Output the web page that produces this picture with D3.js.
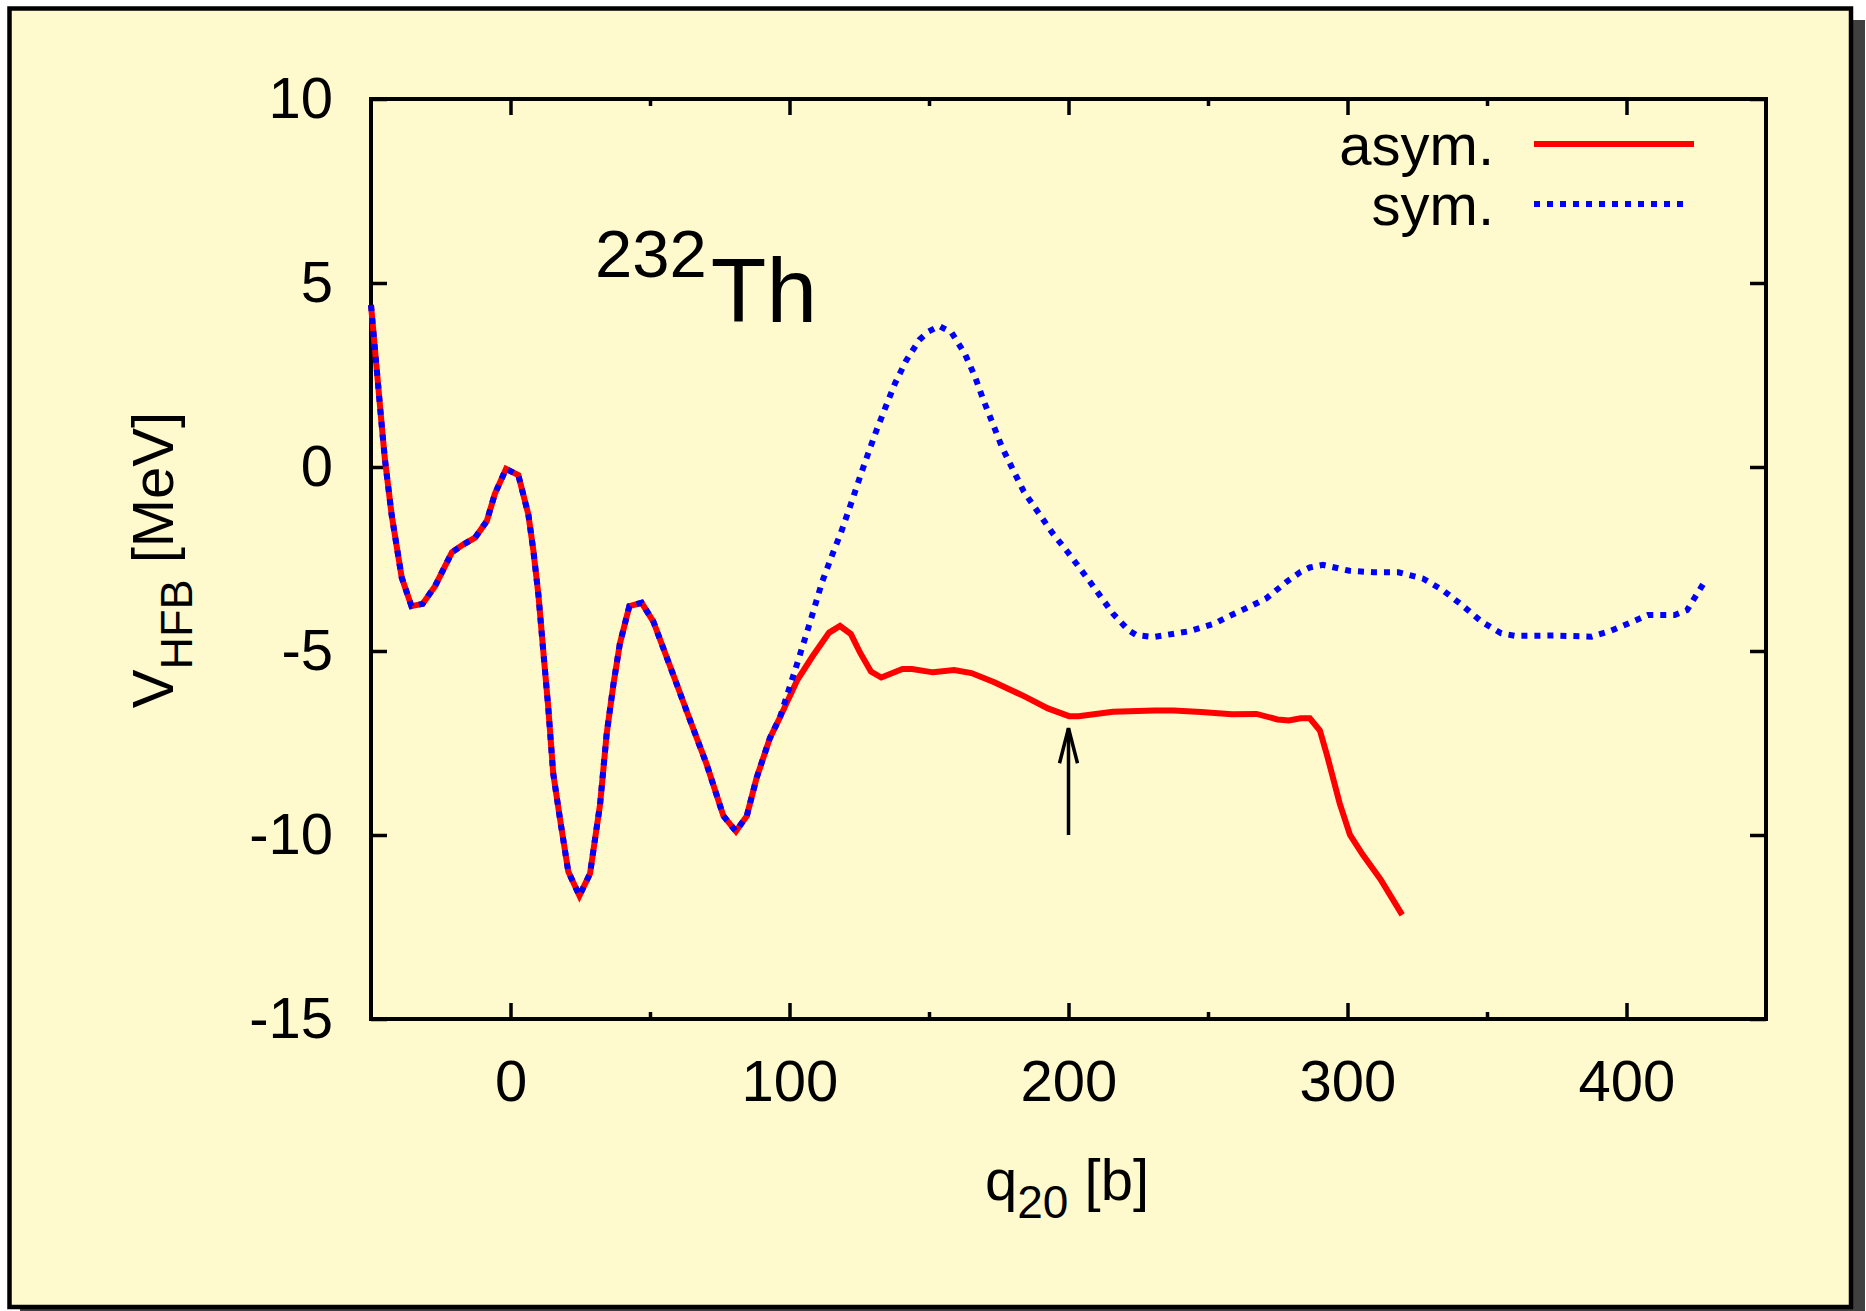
<!DOCTYPE html>
<html>
<head>
<meta charset="utf-8">
<script src="https://cdn.jsdelivr.net/npm/d3@7"></script>
<style>
  body { margin: 0; background: #fff; }
  svg text { font-family: "Liberation Sans", Arial, Helvetica, sans-serif; fill: #000; }
</style>
</head>
<body>
<svg id="chart" width="1866" height="1311"></svg>
<script>

// part where the two curves coincide (q20 in b, V in MeV)
var sharedQ = [-50, -46, -45, -42.6, -39, -35.5, -31.5, -27, -21, -17, -12.7, -8.5, -5.6, -1.6,
    2.8, 6.4, 8.2, 10, 11.8, 13.5, 15.3, 17.7, 20.7, 24.7, 28.5, 32.1, 34.5, 36.9, 39.2,
    42.6, 47, 51.2, 58.4, 64.3, 70.3, 76.3, 80.8, 84.7, 88.2, 93, 96.6];
var sharedV = [4.4, 1.0, 0.2, -1.3, -3.0, -3.78, -3.72, -3.23, -2.32, -2.11, -1.92, -1.47, -0.73, -0.05,
    -0.22, -1.29, -2.27, -3.47, -5.05, -6.5, -8.32, -9.54, -10.99, -11.65, -11.05, -9.17, -7.23, -5.9, -4.8,
    -3.78, -3.69, -4.2, -5.66, -6.87, -8.08, -9.48, -9.9, -9.48, -8.45, -7.36, -6.8];

// asymmetric path after the split
var asymQ = [102.8, 108.2, 114.2, 118.1, 122, 125.4, 129.2, 132.9, 140.5, 143.9, 151.4, 159, 165.2,
    173.4, 184.4, 192.6, 200.2, 203.6, 215.9, 231, 237.8, 247.5, 258.5, 267.4, 274.9, 279, 283.2,
    286.5, 290.1, 292.8, 297.2, 300.9, 305.5, 311.8, 319.6];
var asymV = [-5.79, -5.15, -4.5, -4.32, -4.54, -5.06, -5.56, -5.72, -5.49, -5.49, -5.58, -5.52, -5.6,
    -5.85, -6.24, -6.56, -6.77, -6.77, -6.65, -6.62, -6.62, -6.66, -6.72, -6.71, -6.86, -6.89, -6.83,
    -6.83, -7.16, -7.87, -9.14, -10.0, -10.54, -11.2, -12.17];

// symmetric path after the split
var symQ = [102.8, 107.6, 111.7, 115.5, 118.6, 122.3, 125.3, 128.2, 131.2, 134.5, 137.8, 141.8, 146.5,
    149.8, 153.7, 158.1, 160.5, 162.9, 166.5, 169.5, 172.8, 176.1, 180, 184, 189.2, 194.3, 199.9,
    207.7, 215.9, 221.4, 224.4, 230.5, 243.5, 252.5, 257.1, 262.2, 268, 270.9, 278.5, 283.2, 286.5,
    291.2, 300.7, 309.3, 318.2, 327, 334, 341, 348, 355.1, 360.3, 374.4, 387.5, 393.7, 400.7, 407.7,
    417.3, 421.7, 428.7];
var symV = [-5.33, -4.16, -3.12, -2.35, -1.75, -0.94, -0.26, 0.37, 1.0, 1.64, 2.27, 2.89, 3.45,
    3.68, 3.83, 3.65, 3.36, 3.07, 2.45, 1.82, 1.19, 0.55, -0.06, -0.67, -1.24, -1.8, -2.33,
    -3.12, -3.98, -4.43, -4.57, -4.62, -4.46, -4.25, -4.07, -3.89, -3.68, -3.57, -3.1, -2.85, -2.73,
    -2.66, -2.82, -2.86, -2.86, -3.03, -3.34, -3.75, -4.2, -4.52, -4.59, -4.58, -4.61, -4.47, -4.25, -4.02,
    -4.02, -3.89, -3.03];

var xTickValues = [0, 100, 200, 300, 400];
var xMinorValues = [50, 150, 250, 350];
var yTickValues = [-15, -10, -5, 0, 5, 10];
var legendLabels = ['asym.', 'sym.'];
var arrowQ = 200, arrowFrom = -10, arrowTo = -7.1;


(function() {

    var svg = d3.select('#chart');
    var plotLeft = 371, plotRight = 1766, plotTop = 99, plotBottom = 1019;

    var x = d3.scaleLinear().domain([-50, 450]).range([plotLeft, plotRight]);
    var y = d3.scaleLinear().domain([-15, 10]).range([plotBottom, plotTop]);

    // page frame with its drop shadow
    svg.append('rect')
        .attr('x', 20).attr('y', 20)
        .attr('width', 1845).attr('height', 1300)
        .attr('fill', '#404040');

    svg.append('rect')
        .attr('x', 9.5).attr('y', 8.5)
        .attr('width', 1841.5).attr('height', 1298.5)
        .attr('fill', '#fffacd')
        .attr('stroke', '#000')
        .attr('stroke-width', 4.5);

    function styleAxis(g) {
        g.select('.domain').remove();
        g.selectAll('.tick line').attr('stroke', '#000').attr('stroke-width', 3.5);
        g.selectAll('.tick text')
            .attr('font-family', '"Liberation Sans", Arial, sans-serif')
            .attr('font-size', 58)
            .attr('fill', '#000');
    }

    var plain = function(d) { return String(d); };

    svg.append('g')
        .attr('transform', 'translate(0,' + plotBottom + ')')
        .call(d3.axisBottom(x).tickValues(xTickValues).tickSizeInner(-16).tickSizeOuter(0)
            .tickPadding(41).tickFormat(plain))
        .call(styleAxis);

    svg.append('g')
        .attr('transform', 'translate(0,' + plotBottom + ')')
        .call(d3.axisBottom(x).tickValues(xMinorValues).tickSizeInner(-7).tickSizeOuter(0).tickFormat(''))
        .call(styleAxis);

    svg.append('g')
        .attr('transform', 'translate(0,' + plotTop + ')')
        .call(d3.axisTop(x).tickValues(xTickValues).tickSizeInner(-16).tickSizeOuter(0).tickFormat(''))
        .call(styleAxis);

    svg.append('g')
        .attr('transform', 'translate(0,' + plotTop + ')')
        .call(d3.axisTop(x).tickValues(xMinorValues).tickSizeInner(-7).tickSizeOuter(0).tickFormat(''))
        .call(styleAxis);

    svg.append('g')
        .attr('transform', 'translate(' + plotLeft + ',0)')
        .call(d3.axisLeft(y).tickValues(yTickValues).tickSizeInner(-16).tickSizeOuter(0)
            .tickPadding(38).tickFormat(plain))
        .call(styleAxis);

    svg.append('g')
        .attr('transform', 'translate(' + plotRight + ',0)')
        .call(d3.axisRight(y).tickValues(yTickValues).tickSizeInner(-16).tickSizeOuter(0).tickFormat(''))
        .call(styleAxis);

    // plot border
    svg.append('rect')
        .attr('x', plotLeft).attr('y', plotTop)
        .attr('width', plotRight - plotLeft).attr('height', plotBottom - plotTop)
        .attr('fill', 'none')
        .attr('stroke', '#000')
        .attr('stroke-width', 4);


    var line = d3.line()
        .x(function(d) { return x(d[0]); })
        .y(function(d) { return y(d[1]); });

    var asym = d3.zip(sharedQ.concat(asymQ), sharedV.concat(asymV));
    var sym = d3.zip(sharedQ.concat(symQ), sharedV.concat(symV));

    svg.append('path')
        .datum(asym)
        .attr('d', line)
        .attr('fill', 'none')
        .attr('stroke', '#ff0000')
        .attr('stroke-width', 6)
        .attr('stroke-linejoin', 'miter');

    svg.append('path')
        .datum(sym)
        .attr('d', line)
        .attr('fill', 'none')
        .attr('stroke', '#0000ff')
        .attr('stroke-width', 6)
        .attr('stroke-dasharray', '6,7');

    // arrow marking the point on the asym path
    var ax = x(arrowQ), ay0 = y(arrowFrom), ay1 = y(arrowTo);
    var arrow = svg.append('g')
        .attr('stroke', '#000')
        .attr('stroke-width', 3.5)
        .attr('fill', 'none');
    arrow.append('line').attr('x1', ax).attr('y1', ay0).attr('x2', ax).attr('y2', ay1);
    arrow.append('path')
        .attr('d', 'M' + (ax - 9) + ',' + (ay1 + 35) + 'L' + ax + ',' + ay1 + 'L' + (ax + 9) + ',' + (ay1 + 35));

    // legend
    var legendStyles = [
        { color: '#ff0000', dash: null, x2: 1694 },
        { color: '#0000ff', dash: '6,7', x2: 1690 }
    ];
    legendLabels.forEach(function(label, i) {
        svg.append('text')
            .attr('x', 1494)
            .attr('y', 165 + i * 60)
            .attr('text-anchor', 'end')
            .attr('font-size', 58)
            .text(label);
        svg.append('line')
            .attr('x1', 1534).attr('x2', legendStyles[i].x2)
            .attr('y1', 144 + i * 60).attr('y2', 144 + i * 60)
            .attr('stroke', legendStyles[i].color)
            .attr('stroke-width', 6)
            .attr('stroke-dasharray', legendStyles[i].dash);
    });

    // nucleus label
    var title = svg.append('text')
        .attr('x', 595)
        .attr('y', 277);
    title.append('tspan').attr('font-size', 67).text('232');
    title.append('tspan').attr('font-size', 91).attr('dy', 45).attr('dx', 4).text('Th');

    // axis titles
    var ylab = svg.append('text')
        .attr('transform', 'translate(173,560) rotate(-90)')
        .attr('text-anchor', 'middle')
        .attr('font-size', 58);
    ylab.append('tspan').text('V');
    ylab.append('tspan').attr('font-size', 45).attr('dy', 19).text('HFB');
    ylab.append('tspan').attr('dy', -19).text(' [MeV]');

    var xlab = svg.append('text')
        .attr('x', 1067)
        .attr('y', 1200)
        .attr('text-anchor', 'middle')
        .attr('font-size', 58);
    xlab.append('tspan').text('q');
    xlab.append('tspan').attr('font-size', 46).attr('dy', 18).text('20');
    xlab.append('tspan').attr('dy', -18).text(' [b]');

})();

</script>
</body>
</html>
